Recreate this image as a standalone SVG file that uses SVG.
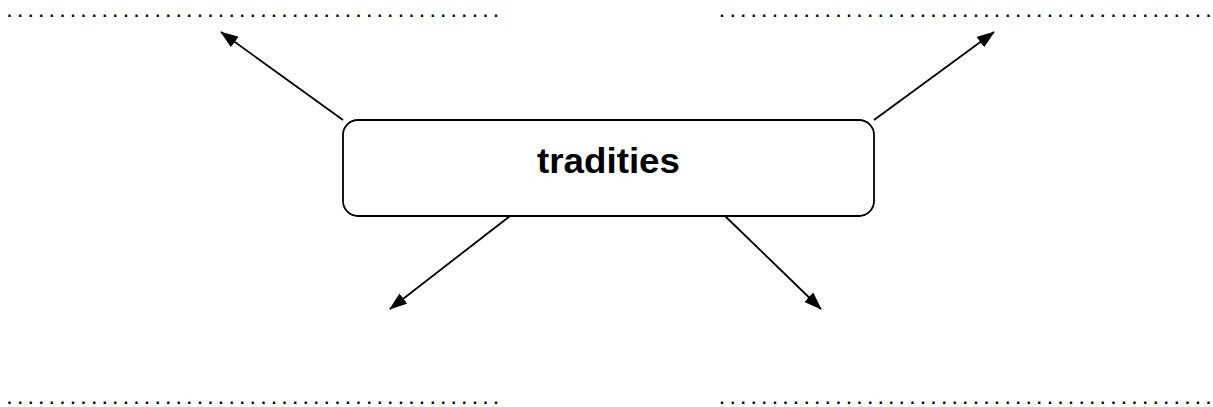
<svg xmlns="http://www.w3.org/2000/svg" width="1213" height="407" viewBox="0 0 1213 407">
<style>
.dots{font-family:"Liberation Sans",Arial,sans-serif;font-size:16px;font-weight:bold;fill:#000}
.lbl{font-family:"Liberation Sans",Arial,sans-serif;font-size:35px;font-weight:bold;fill:#000}
.box{fill:#fff;stroke:#000;stroke-width:1.8}
.conn{stroke:#000;stroke-width:1.8;fill:none;marker-end:url(#ah)}
</style>
<defs>
<marker id="ah" viewBox="0 0 18 13" refX="17" refY="6.5" markerWidth="18" markerHeight="13" markerUnits="userSpaceOnUse" orient="auto">
<path d="M0,0 L18,6.5 L0,13 z" fill="#000"/>
</marker>
</defs>
<rect width="1213" height="407" fill="#fff"/>
<g id="blank-top-left"><text class="dots" x="7.3" y="17.4" textLength="491" lengthAdjust="spacing">...............................................</text></g>
<g id="blank-top-right"><text class="dots" x="719.8" y="17.4" textLength="491" lengthAdjust="spacing">...............................................</text></g>
<g id="blank-bottom-left"><text class="dots" x="7.3" y="404" textLength="491" lengthAdjust="spacing">...............................................</text></g>
<g id="blank-bottom-right"><text class="dots" x="719.8" y="404" textLength="491" lengthAdjust="spacing">...............................................</text></g>
<g id="connectors">
<line class="conn" x1="343" y1="120" x2="221" y2="32"/>
<line class="conn" x1="874" y1="120" x2="994" y2="32"/>
<line class="conn" x1="510" y1="216" x2="390" y2="309"/>
<line class="conn" x1="725" y1="216" x2="821" y2="309"/>
</g>
<g id="tradities">
<rect class="box" x="343" y="120" width="531" height="96" rx="15" ry="15"/>
<text class="lbl" x="537" y="173" textLength="143" lengthAdjust="spacingAndGlyphs">tradities</text>
</g>
</svg>
